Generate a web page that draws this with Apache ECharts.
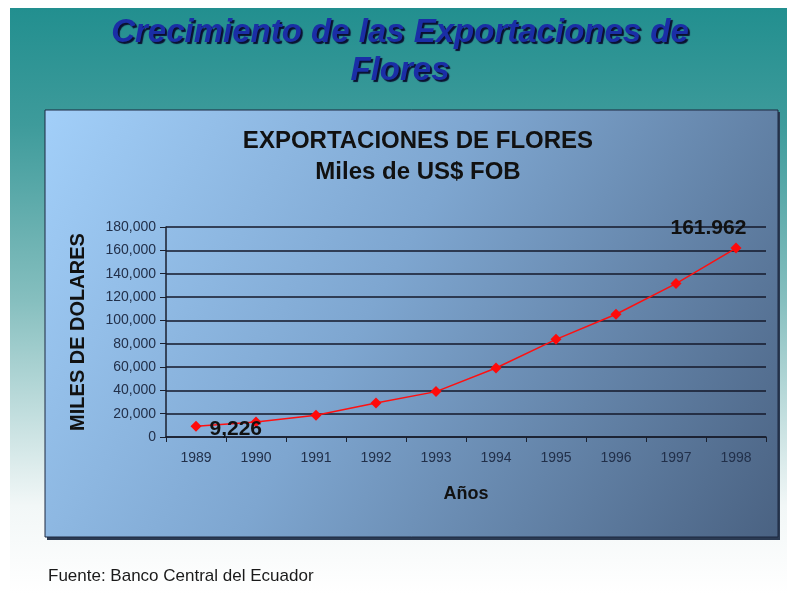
<!DOCTYPE html>
<html>
<head>
<meta charset="utf-8">
<script src="https://cdn.jsdelivr.net/npm/echarts@6/dist/echarts.min.js"></script>
<style>
  html, body { margin: 0; padding: 0; background: #ffffff; }
  #chart { width: 787px; height: 594px; }
</style>
</head>
<body>
<div id="chart"></div>
<script>
// data
const years = ["1989", "1990", "1991", "1992", "1993", "1994", "1995", "1996", "1997", "1998"];
const exports = [9226, 12900, 18600, 29100, 38900, 59100, 83700, 105200, 131500, 161962];
const yTicks = [0, 20000, 40000, 60000, 80000, 100000, 120000, 140000, 160000, 180000];

const chart = echarts.init(document.getElementById("chart"));

const font = "'Liberation Sans', Arial, sans-serif";

const fmt = (v) => String(v).replace(/\B(?=(\d{3})+(?!\d))/g, ",");

chart.setOption({
  animation: false,
  graphic: [
    {
      // slide background
      type: "rect",
      z: -10,
      shape: { x: 10, y: 8, width: 777, height: 586 },
      style: {
        fill: new echarts.graphic.LinearGradient(0, 0, 0, 1, [
          { offset: 0, color: "#228f8f" },
          { offset: 0.2, color: "#3e9b9b" },
          { offset: 0.5, color: "#86bfbf" },
          { offset: 0.85, color: "#f2f7f7" },
          { offset: 1, color: "#ffffff" },
        ]),
      },
    },
    {
      // panel shadow
      type: "rect",
      z: -9,
      shape: { x: 47, y: 112, width: 733, height: 428 },
      style: { fill: "#2b3a52" },
    },
    {
      // chart panel
      type: "rect",
      z: -8,
      shape: { x: 45, y: 110, width: 733, height: 427 },
      style: {
        fill: new echarts.graphic.LinearGradient(0, 0, 1, 1, [
          { offset: 0, color: "#a2cff9" },
          { offset: 0.45, color: "#7ea6d0" },
          { offset: 1, color: "#4a6282" },
        ]),
        stroke: "#1c2840",
        lineWidth: 1,
      },
    },
    {
      type: "text",
      left: 48,
      top: 568,
      style: {
        text: "Fuente: Banco Central del Ecuador",
        font: "17px " + font,
        fill: "#1a1a1a",
      },
    },
  ],
  title: [
    {
      text: "Crecimiento de las Exportaciones de\nFlores",
      left: 395,
      top: 9,
      textAlign: "center",
      textStyle: {
        fontFamily: font,
        fontSize: 33,
        fontWeight: "bold",
        fontStyle: "italic",
        color: "#1a2ea6",
        lineHeight: 38,
        textShadowColor: "#0a1030",
        textShadowOffsetX: 2,
        textShadowOffsetY: 2,
        textShadowBlur: 1,
      },
    },
    {
      text: "EXPORTACIONES DE FLORES\nMiles de US$ FOB",
      left: 413,
      top: 121,
      textAlign: "center",
      textStyle: {
        fontFamily: font,
        fontSize: 24,
        fontWeight: "bold",
        color: "#111111",
        lineHeight: 31,
      },
    },
  ],
  grid: {
    left: 166,
    right: 21,
    top: 227,
    bottom: 157,
  },
  xAxis: {
    type: "category",
    data: years,
    boundaryGap: true,
    name: "Años",
    nameLocation: "middle",
    nameGap: 48,
    nameTextStyle: {
      fontFamily: font,
      fontSize: 18,
      fontWeight: "bold",
      color: "#111111",
    },
    axisLine: { lineStyle: { color: "#1a1f2e", width: 1.5 } },
    axisTick: { show: true, length: 5, lineStyle: { color: "#1a1f2e" } },
    axisLabel: {
      margin: 14,
      fontFamily: font,
      fontSize: 14,
      color: "#22304a",
    },
  },
  yAxis: {
    type: "value",
    min: 0,
    max: 180000,
    interval: 20000,
    name: "MILES DE DOLARES",
    nameLocation: "middle",
    nameGap: 78,
    nameTextStyle: {
      fontFamily: font,
      fontSize: 20,
      fontWeight: "bold",
      color: "#111111",
    },
    axisLine: { show: true, lineStyle: { color: "#1a1f2e", width: 1.5 } },
    axisTick: { show: true, length: 6, lineStyle: { color: "#1a1f2e" } },
    axisLabel: {
      margin: 10,
      fontFamily: font,
      fontSize: 14,
      color: "#22304a",
      formatter: (v) => (yTicks.indexOf(v) >= 0 ? fmt(v) : ""),
    },
    splitLine: { show: true, lineStyle: { color: "#14182a", width: 1.5 } },
  },
  series: [
    {
      type: "line",
      data: exports,
      symbol: "diamond",
      symbolSize: 11,
      lineStyle: { color: "#ff1010", width: 1.5 },
      itemStyle: { color: "#ff0a0a" },
      label: {
        show: true,
        fontFamily: font,
        fontSize: 21,
        fontWeight: "bold",
        color: "#111111",
        formatter: (p) => {
          if (p.dataIndex === 0) return "9,226";
          if (p.dataIndex === exports.length - 1) return "161.962";
          return "";
        },
        position: "right",
        distance: 8,
      },
      labelLayout: (params) => {
        if (params.dataIndex === exports.length - 1) {
          return { x: params.rect.x - 60, y: params.rect.y - 25 };
        }
        return { y: params.rect.y - 2 };
      },
    },
  ],
});
</script>
</body>
</html>
